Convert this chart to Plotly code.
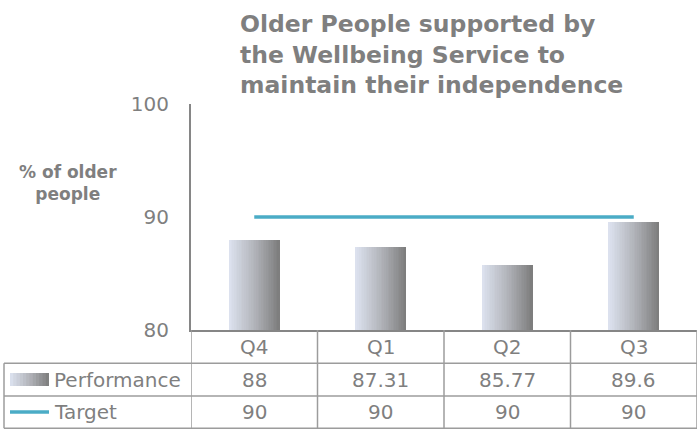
import plotly.graph_objects as go

# Chart data
quarters = ["Q4", "Q1", "Q2", "Q3"]
performance = [88, 87.31, 85.77, 89.6]
target = [90, 90, 90, 90]
series_names = ["Performance", "Target"]
y_ticks = [80, 90, 100]
title_lines = ["Older People supported by", "the Wellbeing Service to", "maintain their independence"]
y_title_lines = ["% of older", "people"]

# Figure geometry (pixels)
W, H = 698, 437
L, R, T, B = 191, 1, 104, 107
PW, PH = W - L - R, H - T - B

def px_x(x):
    return (x - L) / PW

def px_y(y):
    return (H - B - y) / PH

GREY_TEXT = "#7f7f7f"
AXIS_GREY = "#868686"
GRID_GREY = "#9c9c9c"
TEAL = "#4bacc6"
FONT = "DejaVu Sans"

# Horizontal bar gradient: pale blue-grey to mid grey
stops = [(0.0, (221, 227, 240)), (0.5, (178, 180, 186)), (1.0, (124, 124, 124))]

def grad(t):
    for (t0, c0), (t1, c1) in zip(stops[:-1], stops[1:]):
        if t <= t1:
            f = (t - t0) / (t1 - t0)
            return "rgb(%d,%d,%d)" % tuple(round(a + (b - a) * f) for a, b in zip(c0, c1))
    return "rgb(%d,%d,%d)" % stops[-1][1]

fig = go.Figure()

bar_w = 0.4
n_slices = 30
step = bar_w / n_slices
for i in range(n_slices):
    off = -bar_w / 2 + i * step
    w = min(step * 1.8, bar_w / 2 - off)
    fig.add_trace(go.Bar(
        x=quarters, y=performance, offset=off, width=w,
        marker=dict(color=grad((i + 0.5) / n_slices), line=dict(width=0)),
        hoverinfo="skip", showlegend=False,
    ))

fig.add_trace(go.Scatter(
    x=quarters, y=target, mode="lines",
    line=dict(color=TEAL, width=3.5),
    hoverinfo="skip", showlegend=False,
))

shapes = []
annotations = []

# Data table grid
row_top = px_y(363.3)
row_mid = px_y(396)
row_bot = px_y(428.3)
left_edge = px_x(4)
for yv in (row_top, row_mid, row_bot):
    shapes.append(dict(type="line", xref="paper", yref="paper", x0=left_edge, x1=1,
                       y0=yv, y1=yv, line=dict(color=GRID_GREY, width=1.5)))
shapes.append(dict(type="line", xref="paper", yref="paper", x0=left_edge, x1=left_edge,
                   y0=row_top, y1=row_bot, line=dict(color=GRID_GREY, width=1.5)))
for k in range(len(quarters) + 1):
    shapes.append(dict(type="line", xref="x", yref="paper", x0=k - 0.5, x1=k - 0.5,
                       y0=0, y1=row_bot, line=dict(color=GRID_GREY, width=1.5)))

# Legend keys inside the table
key_x0, key_x1 = px_x(10), px_x(49)
n_key = 12
for i in range(n_key):
    a = key_x0 + (key_x1 - key_x0) * i / n_key
    b = key_x0 + (key_x1 - key_x0) * (i + 1.6) / n_key
    shapes.append(dict(type="rect", xref="paper", yref="paper", x0=a, x1=min(b, key_x1),
                       y0=px_y(386), y1=px_y(373), line=dict(width=0),
                       fillcolor=grad((i + 0.5) / n_key)))
shapes.append(dict(type="line", xref="paper", yref="paper", x0=key_x0, x1=key_x1,
                   y0=px_y(412), y1=px_y(412), line=dict(color=TEAL, width=3.5)))

cat_y = px_y(347)
perf_y = (row_top + row_mid) / 2
targ_y = (row_mid + row_bot) / 2
cell_font = dict(family=FONT, size=20, color=GREY_TEXT)
for q, p, t in zip(quarters, performance, target):
    annotations.append(dict(x=q, y=cat_y, xref="x", yref="paper", text=q, showarrow=False,
                            font=cell_font, xanchor="center", yanchor="middle"))
    annotations.append(dict(x=q, y=perf_y, xref="x", yref="paper", text=f"{p:g}", showarrow=False,
                            font=cell_font, xanchor="center", yanchor="middle"))
    annotations.append(dict(x=q, y=targ_y, xref="x", yref="paper", text=f"{t:g}", showarrow=False,
                            font=cell_font, xanchor="center", yanchor="middle"))
for name, yv in zip(series_names, (perf_y, targ_y)):
    annotations.append(dict(x=px_x(52), y=yv, xref="paper", yref="paper", text=name, showarrow=False,
                            font=cell_font, xanchor="left", yanchor="middle"))

# Chart title and axis title
annotations.append(dict(x=px_x(238), y=px_y(54), xref="paper", yref="paper",
                        text="<br>".join(title_lines), showarrow=False, align="left",
                        xanchor="left", yanchor="middle",
                        font=dict(family=FONT, size=23.5, color=GREY_TEXT, weight="bold")))
annotations.append(dict(x=px_x(68), y=px_y(183), xref="paper", yref="paper",
                        text="<br>".join(y_title_lines), showarrow=False, align="center",
                        xanchor="center", yanchor="middle",
                        font=dict(family=FONT, size=17, color=GREY_TEXT, weight="bold")))

fig.update_layout(
    width=W, height=H,
    margin=dict(l=L, r=R, t=T, b=B),
    paper_bgcolor="white", plot_bgcolor="white",
    barmode="overlay", bargap=0,
    showlegend=False,
    shapes=shapes, annotations=annotations,
    xaxis=dict(range=[-0.5, len(quarters) - 0.5], showticklabels=False, ticks="",
               showgrid=False, zeroline=False, showline=True, linecolor=AXIS_GREY, linewidth=2),
    yaxis=dict(range=[80, 100], tickvals=y_ticks, ticks="", showgrid=False, zeroline=False,
               showline=True, linecolor=AXIS_GREY, linewidth=2, ticklabelstandoff=16,
               tickfont=dict(family=FONT, size=20, color=GREY_TEXT)),
)

fig.write_html("out.html", config={"displayModeBar": False})
